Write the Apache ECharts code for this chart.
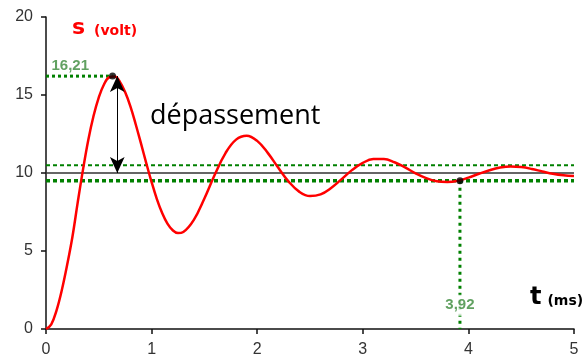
<!DOCTYPE html>
<html>
<head>
<meta charset="utf-8">
<script src="https://cdn.jsdelivr.net/npm/echarts@6/dist/echarts.min.js"></script>
<style>
    html, body { margin: 0; padding: 0; background: #fff; }
    #chart { width: 586px; height: 363px; }
</style>
</head>
<body>
<div id="chart"></div>
<script>
    // temps (ms) et tension s (volt)
    var tValues = [0, 0.05, 0.1, 0.15, 0.2, 0.25, 0.3, 0.35, 0.4, 0.45, 0.5, 0.55, 0.6, 0.65, 0.7, 0.75, 0.8, 0.85, 0.9, 0.95,
        1.0, 1.05, 1.1, 1.15, 1.2, 1.25, 1.3, 1.4, 1.5, 1.6, 1.7, 1.8, 1.9,
        2.0, 2.1, 2.2, 2.3, 2.4, 2.5, 2.6, 2.7, 2.8, 2.9, 3.0, 3.1, 3.2, 3.3, 3.4, 3.5, 3.6, 3.7, 3.8, 3.9,
        4.0, 4.1, 4.2, 4.3, 4.4, 4.5, 4.6, 4.7, 4.8, 4.9, 5.0];
    var sValues = [0, 0.3, 1.2, 2.5, 4.1, 5.9, 8.1, 10.2, 12.1, 13.65, 14.85, 15.69, 16.14, 16.18, 15.84, 15.17, 14.26, 13.11, 11.88, 10.62,
        9.42, 8.33, 7.43, 6.75, 6.33, 6.15, 6.22, 7.0, 8.37, 9.92, 11.28, 12.14, 12.39,
        12.06, 11.29, 10.33, 9.43, 8.79, 8.52, 8.63, 9.04, 9.61, 10.2, 10.65, 10.89, 10.9, 10.69, 10.36, 9.98, 9.67, 9.47, 9.42, 9.5,
        9.7, 9.95, 10.18, 10.35, 10.42, 10.38, 10.26, 10.1, 9.95, 9.85, 9.8];

    var finalValue = 10;
    var bandHigh = 10.5;
    var bandLow = 9.5;
    var peak = [0.63, 16.21];
    var settle = [3.92, 9.5];
    var arrowT = 0.675;
    var xTicks = [0, 5, 1];   // min, max, interval
    var yTicks = [0, 20, 5];

    var green = '#008000';
    var myChart = echarts.init(document.getElementById('chart'));

    function frNumber(v) {
        return v.toFixed(2).replace('.', ',');
    }

    var axisCommon = {
        splitLine: { show: false },
        axisLine: { lineStyle: { color: '#111', width: 1.5 } },
        axisTick: { length: 5, lineStyle: { color: '#111', width: 1.5 } }
    };

    var option = {
        animation: false,
        grid: { left: 46, right: 12, top: 17, bottom: 34 },
        xAxis: Object.assign({
            type: 'value',
            min: xTicks[0], max: xTicks[1], interval: xTicks[2],
            axisLabel: { color: '#333', fontSize: 16, fontFamily: 'Liberation Sans', margin: 13 }
        }, axisCommon),
        yAxis: Object.assign({
            type: 'value',
            min: yTicks[0], max: yTicks[1], interval: yTicks[2],
            axisLabel: { color: '#333', fontSize: 16, fontFamily: 'Liberation Sans', margin: 13 }
        }, axisCommon),
        series: [
            // valeur finale
            {
                type: 'line', symbol: 'none', z: 2,
                data: [[xTicks[0], finalValue], [xTicks[1], finalValue]],
                lineStyle: { color: '#333', width: 1.5 }
            },
            // bande +5%
            {
                type: 'line', symbol: 'none', z: 2,
                data: [[xTicks[0], bandHigh], [xTicks[1], bandHigh]],
                lineStyle: { color: green, width: 2, type: [4, 3] }
            },
            // bande -5%
            {
                type: 'line', symbol: 'none', z: 2,
                data: [[xTicks[0], bandLow], [xTicks[1], bandLow]],
                lineStyle: { color: green, width: 3.5, type: [4, 3] }
            },
            // niveau du pic
            {
                type: 'line', symbol: 'none', z: 2,
                data: [[xTicks[0], peak[1]], peak],
                lineStyle: { color: green, width: 3, type: [3, 3] }
            },
            // temps de réponse
            {
                type: 'line', symbol: 'none', z: 2,
                data: [settle, [settle[0], 0]],
                lineStyle: { color: green, width: 3, type: [3, 4] }
            },
            // courbe s(t)
            {
                type: 'line', symbol: 'none', smooth: 0.4, z: 3,
                data: tValues.map(function (t, i) { return [t, sValues[i]]; }),
                lineStyle: { color: '#ff0000', width: 2.5 },
                markLine: {
                    silent: true,
                    symbol: ['arrow', 'arrow'],
                    symbolSize: [11, 16],
                    label: { show: false },
                    lineStyle: { color: '#000', width: 1, type: 'solid' },
                    data: [[{ coord: [arrowT, peak[1]] }, { coord: [arrowT, finalValue] }]]
                }
            },
            // points marqués
            {
                type: 'scatter', z: 4, symbolSize: 7,
                itemStyle: { color: '#000' },
                data: [peak, settle]
            },
            // étiquettes vertes
            {
                type: 'scatter', z: 5, symbolSize: 0,
                label: {
                    show: true, position: 'inside',
                    color: '#3a8a3a', fontSize: 15, fontWeight: 'bold', fontFamily: 'Liberation Sans',
                    formatter: function (p) { return p.value[2]; }
                },
                data: [
                    { value: [0.23, 16.84, frNumber(peak[1])] },
                    {
                        value: [settle[0], 1.53, frNumber(settle[0])],
                        label: { backgroundColor: '#fff', padding: [3, 2] }
                    }
                ]
            }
        ],
        graphic: [
            {
                type: 'text', left: 150, top: 103,
                style: { text: 'dépassement', fill: '#000', font: '27px "Open Sans"' }
            },
            {
                type: 'text', left: 72, top: 17,
                style: {
                    text: '{a|s}{b|(volt)}',
                    rich: {
                        a: { fill: '#ff0000', font: 'bold 22px "DejaVu Sans"' },
                        b: { fill: '#ff0000', font: 'bold 14px "DejaVu Sans"', padding: [6, 0, 0, 9] }
                    }
                }
            },
            {
                type: 'text', left: 530, top: 286,
                style: {
                    text: '{a|t}{b|(ms)}',
                    rich: {
                        a: { fill: '#000', font: 'bold 24px "DejaVu Sans"' },
                        b: { fill: '#000', font: 'bold 14px "DejaVu Sans"', padding: [6, 0, 0, 6] }
                    }
                }
            }
        ]
    };
    myChart.setOption(option);
</script>
</body>
</html>
